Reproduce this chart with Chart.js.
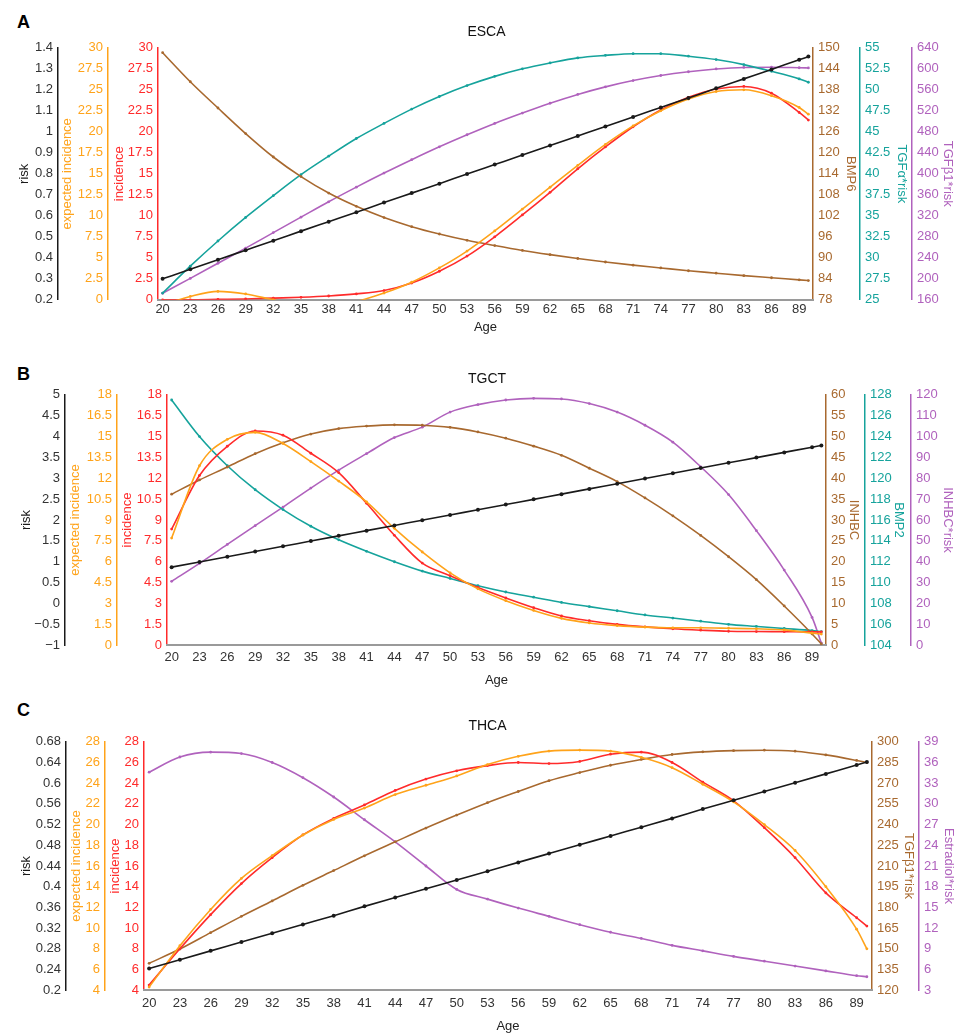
<!DOCTYPE html>
<html>
<head>
<meta charset="utf-8">
<script src="https://cdn.jsdelivr.net/npm/chart.js@4/dist/chart.umd.min.js"></script>
<style>
  body { margin: 0; background: #fff; }
  #page { position: relative; width: 959px; height: 1034px; font-family: Arial, "Liberation Sans", sans-serif; }
  .panel { position: absolute; left: 0; width: 959px; }
  .letter { position: absolute; left: 17px; font-size: 18px; line-height: 18px; font-weight: bold; color: #000; }
</style>
</head>
<body>
<div id="page">
  <div class="letter" style="top:13px">A</div>
  <div class="letter" style="top:365px">B</div>
  <div class="letter" style="top:701px">C</div>
  <div class="panel" style="top:0;height:340px"><canvas id="chartA"></canvas></div>
  <div class="panel" style="top:340px;height:350px"><canvas id="chartB"></canvas></div>
  <div class="panel" style="top:690px;height:344px"><canvas id="chartC"></canvas></div>
</div>
<script>
// Ages on the x axis, and the labelled ticks
const ages = [20, 23, 26, 29, 32, 35, 38, 41, 44, 47, 50, 53, 56, 59, 62, 65, 68, 71, 74, 77, 80, 83, 86, 89, 90];
const ageTicks = [20, 23, 26, 29, 32, 35, 38, 41, 44, 47, 50, 53, 56, 59, 62, 65, 68, 71, 74, 77, 80, 83, 86, 89];

// A - ESCA
const escaRisk = [0.300, 0.345, 0.391, 0.436, 0.481, 0.527, 0.572, 0.617, 0.663, 0.708, 0.753, 0.799, 0.844, 0.889, 0.935, 0.980, 1.025, 1.071, 1.116, 1.161, 1.207, 1.252, 1.297, 1.343, 1.358];
const escaExpected = [-0.6, 0.4, 1.0, 0.7, 0.0, -0.6, -0.8, -0.2, 0.8, 2.1, 3.8, 5.8, 8.2, 10.8, 13.4, 16.0, 18.5, 20.7, 22.5, 23.9, 24.8, 25.0, 24.3, 22.9, 22.1];
const escaIncidence = [0, 0, 0.05, 0.1, 0.2, 0.3, 0.45, 0.7, 1.1, 2.0, 3.4, 5.2, 7.5, 10.1, 12.8, 15.6, 18.2, 20.6, 22.6, 24.1, 25.1, 25.4, 24.6, 22.3, 21.4];
const escaBMP6 = [148.6, 140.3, 132.8, 125.5, 118.8, 113.2, 108.5, 104.7, 101.5, 98.9, 96.8, 95.0, 93.5, 92.1, 90.9, 89.8, 88.8, 87.9, 87.1, 86.3, 85.6, 84.9, 84.3, 83.7, 83.5];
const escaTGFa = [25.8, 29.0, 32.0, 34.8, 37.4, 39.9, 42.1, 44.2, 46.0, 47.7, 49.2, 50.5, 51.6, 52.5, 53.2, 53.8, 54.1, 54.3, 54.3, 54.0, 53.6, 53.0, 52.2, 51.3, 50.9];
const escaTGFb1 = [172.5, 200.8, 229.6, 258.4, 288, 317.4, 346.7, 374.6, 401.4, 426.9, 451.4, 474.4, 496, 515.7, 534.4, 551.2, 565.6, 577.6, 587.2, 594.4, 599.7, 602.6, 603, 602, 601.6];

// B - TGCT
const tgctRisk = [0.87, 0.995, 1.12, 1.245, 1.37, 1.495, 1.62, 1.745, 1.87, 1.995, 2.12, 2.245, 2.37, 2.495, 2.62, 2.745, 2.87, 2.995, 3.12, 3.245, 3.37, 3.495, 3.62, 3.745, 3.785];
const tgctExpected = [7.7, 12.9, 14.8, 15.3, 14.5, 13.2, 11.8, 10.3, 8.4, 6.7, 5.2, 4.05, 3.2, 2.5, 1.93, 1.6, 1.41, 1.3, 1.25, 1.25, 1.22, 1.18, 1.1, 0.87, 0.8];
const tgctIncidence = [8.35, 12.2, 14.3, 15.4, 15.1, 13.8, 12.4, 10.2, 7.9, 5.9, 5.0, 4.15, 3.4, 2.7, 2.1, 1.76, 1.5, 1.32, 1.18, 1.08, 1.0, 0.98, 0.97, 0.96, 0.96];
const tgctINHBC = [36.2, 39.6, 42.7, 45.9, 48.5, 50.6, 51.9, 52.5, 52.8, 52.7, 52.2, 51.1, 49.6, 47.7, 45.5, 42.4, 39.2, 35.3, 31.0, 26.3, 21.2, 15.7, 9.4, 2.7, 0.3];
const tgctBMP2 = [127.5, 124.0, 121.2, 118.9, 117.0, 115.4, 114.1, 113.0, 112.0, 111.1, 110.4, 109.7, 109.1, 108.6, 108.1, 107.7, 107.3, 106.9, 106.6, 106.3, 106.0, 105.8, 105.6, 105.4, 105.3];
const tgctINHBCrisk = [30.6, 39.2, 48.3, 57.3, 66.2, 75.3, 83.9, 91.8, 99.5, 104.5, 111.7, 115.3, 117.5, 118.3, 118, 115.8, 111.7, 105.4, 97.3, 85.5, 72.2, 54.9, 36, 13.3, 1.0];

// C - THCA
const thcaRisk = [0.242, 0.259, 0.276, 0.293, 0.310, 0.327, 0.344, 0.362, 0.379, 0.396, 0.413, 0.430, 0.447, 0.464, 0.481, 0.498, 0.515, 0.532, 0.550, 0.567, 0.584, 0.601, 0.618, 0.635, 0.641];
const thcaExpected = [4.3, 8.3, 11.8, 14.8, 17.0, 19.0, 20.5, 21.6, 22.9, 23.8, 24.7, 25.8, 26.6, 27.1, 27.2, 27.1, 26.5, 25.5, 23.9, 22.2, 20.0, 17.5, 14.0, 9.9, 8.0];
const thcaIncidence = [4.5, 8.0, 11.3, 14.3, 16.8, 19.0, 20.6, 21.9, 23.3, 24.4, 25.2, 25.7, 26.0, 25.9, 26.1, 26.8, 27.0, 26.0, 24.1, 22.3, 19.7, 16.8, 13.4, 11.0, 10.2];
const thcaTGFb1 = [139.5, 149.8, 161.7, 173.5, 184.7, 196, 206.7, 217.4, 227.5, 237.5, 246.9, 255.9, 264, 271.8, 277.7, 283, 287.2, 290.8, 292.7, 293.6, 293.9, 293.2, 290.5, 286.5, 285];
const thcaEstradiol = [34.6, 36.8, 37.5, 37.3, 36.0, 33.8, 31.0, 27.7, 24.5, 21.0, 17.6, 16.2, 14.9, 13.7, 12.5, 11.4, 10.5, 9.5, 8.7, 7.9, 7.2, 6.5, 5.8, 5.1, 4.95];

// axis ranges [min, max, step]
const escaAxes = { risk: [0.2, 1.4, 0.1], exp: [0, 30, 2.5], inc: [0, 30, 2.5], bmp6: [78, 150, 6], tgfa: [25, 55, 2.5], tgfb1: [160, 640, 40] };
const tgctAxes = { risk: [-1, 5, 0.5], exp: [0, 18, 1.5], inc: [0, 18, 1.5], inhbc: [0, 60, 5], bmp2: [104, 128, 2], inhbcRisk: [0, 120, 10] };
const thcaAxes = { risk: [0.2, 0.68, 0.04], exp: [4, 28, 2], inc: [4, 28, 2], tgfb1: [120, 300, 15], estradiol: [3, 39, 3] };

const BLACK = '#1a1a1a', ORANGE = '#ffa31a', RED = '#ff2b2b', BROWN = '#a8692f', TEAL = '#16a39c', PURPLE = '#b062bd';

Chart.defaults.font.family = 'Arial, "Liberation Sans", sans-serif';
Chart.defaults.font.size = 13;

const fmt = v => String(Math.round(v * 1000) / 1000).replace('-', '\u2212');

function yAxis(pos, color, text, range, width, titlePad, tickColor) {
  const [min, max, step] = range;
  return {
    type: 'linear', position: pos, min: min, max: max,
    grid: { display: false, drawTicks: false },
    border: { display: true, color: color, width: 1.5 },
    ticks: { color: tickColor || color, padding: 5, callback: fmt },
    title: { display: true, text: text, color: color, padding: { top: titlePad, bottom: 0 } },
    afterBuildTicks: s => {
      const t = [];
      for (let i = 0; min + i * step <= max + step / 2; i++) t.push({ value: Math.round((min + i * step) * 1000) / 1000 });
      s.ticks = t;
    },
    afterFit: s => { s.width = width; }
  };
}

function line(data, axis, color, r) {
  return {
    data: data.map((v, i) => ({ x: ages[i], y: v })),
    yAxisID: axis, borderColor: color, backgroundColor: color,
    borderWidth: 1.6, pointRadius: r || 1.4, pointBorderWidth: 0, pointHoverRadius: 0,
    cubicInterpolationMode: 'monotone', fill: false
  };
}

function makeChart(id, title, scales, datasets, pad, xPad) {
  scales.x = {
    type: 'linear', position: 'bottom', min: 19.5, max: 90.5,
    grid: { display: false, drawTicks: false },
    border: { display: true, color: '#9a9a9a', width: 2 },
    ticks: { color: '#333', padding: xPad[0], autoSkip: false, maxRotation: 0, callback: v => String(v) },
    title: { display: true, text: 'Age', color: '#222', padding: { top: xPad[1], bottom: 0 } },
    afterBuildTicks: s => { s.ticks = ageTicks.map(v => ({ value: v })); }
  };
  return new Chart(document.getElementById(id), {
    type: 'line',
    data: { datasets: datasets },
    options: {
      responsive: true, maintainAspectRatio: false, animation: false,
      layout: { padding: pad },
      plugins: {
        legend: { display: false }, tooltip: { enabled: false },
        title: { display: true, text: title, color: '#111', font: { size: 14, weight: 'normal' }, padding: { top: 10, bottom: 7 } }
      },
      scales: scales
    }
  });
}

// A - ESCA
makeChart('chartA', 'ESCA', {
  yInc: yAxis('left', RED, 'incidence', escaAxes.inc, 50, 4),
  yExp: yAxis('left', ORANGE, 'expected incidence', escaAxes.exp, 50, 2),
  yRisk: yAxis('left', BLACK, 'risk', escaAxes.risk, 44, 3, '#333'),
  yBMP6: yAxis('right', BROWN, 'BMP6', escaAxes.bmp6, 47, 2),
  yTGFa: yAxis('right', TEAL, 'TGF\u03b1*risk', escaAxes.tgfa, 52, 3),
  yTGFb1: yAxis('right', PURPLE, 'TGF\u03b21*risk', escaAxes.tgfb1, 47, 4)
}, [
  line(escaRisk, 'yRisk', BLACK, 2),
  line(escaExpected, 'yExp', ORANGE),
  line(escaIncidence, 'yInc', RED),
  line(escaBMP6, 'yBMP6', BROWN),
  line(escaTGFa, 'yTGFa', TEAL),
  line(escaTGFb1, 'yTGFb1', PURPLE)
], { top: 14, left: 14, right: 0, bottom: 5 }, [2, 0]);

// B - TGCT
makeChart('chartB', 'TGCT', {
  yInc: yAxis('left', RED, 'incidence', tgctAxes.inc, 50, 3),
  yExp: yAxis('left', ORANGE, 'expected incidence', tgctAxes.exp, 52, 3),
  yRisk: yAxis('left', BLACK, 'risk', tgctAxes.risk, 49, 3, '#333'),
  yINHBC: yAxis('right', BROWN, 'INHBC', tgctAxes.inhbc, 39, 4),
  yBMP2: yAxis('right', TEAL, 'BMP2', tgctAxes.bmp2, 46, 5),
  yINHBCrisk: yAxis('right', PURPLE, 'INHBC*risk', tgctAxes.inhbcRisk, 47, 3)
}, [
  line(tgctRisk, 'yRisk', BLACK, 2),
  line(tgctExpected, 'yExp', ORANGE),
  line(tgctIncidence, 'yInc', RED),
  line(tgctINHBC, 'yINHBC', BROWN),
  line(tgctBMP2, 'yBMP2', TEAL),
  line(tgctINHBCrisk, 'yINHBCrisk', PURPLE)
], { top: 21, left: 16, right: 1, bottom: 2 }, [4, 3.6]);

// C - THCA
makeChart('chartC', 'THCA', {
  yInc: yAxis('left', RED, 'incidence', thcaAxes.inc, 39, 3),
  yExp: yAxis('left', ORANGE, 'expected incidence', thcaAxes.exp, 39, 3),
  yRisk: yAxis('left', BLACK, 'risk', thcaAxes.risk, 50, 3, '#333'),
  yTGFb1: yAxis('right', BROWN, 'TGF\u03b21*risk', thcaAxes.tgfb1, 47, 3),
  yEstradiol: yAxis('right', PURPLE, 'Estradiol*risk', thcaAxes.estradiol, 40, 3)
}, [
  line(thcaRisk, 'yRisk', BLACK, 2),
  line(thcaExpected, 'yExp', ORANGE),
  line(thcaIncidence, 'yInc', RED),
  line(thcaTGFb1, 'yTGFb1', BROWN),
  line(thcaEstradiol, 'yEstradiol', PURPLE)
], { top: 18, left: 16, right: 0, bottom: 0 }, [5, 2.6]);
</script>
</body>
</html>
